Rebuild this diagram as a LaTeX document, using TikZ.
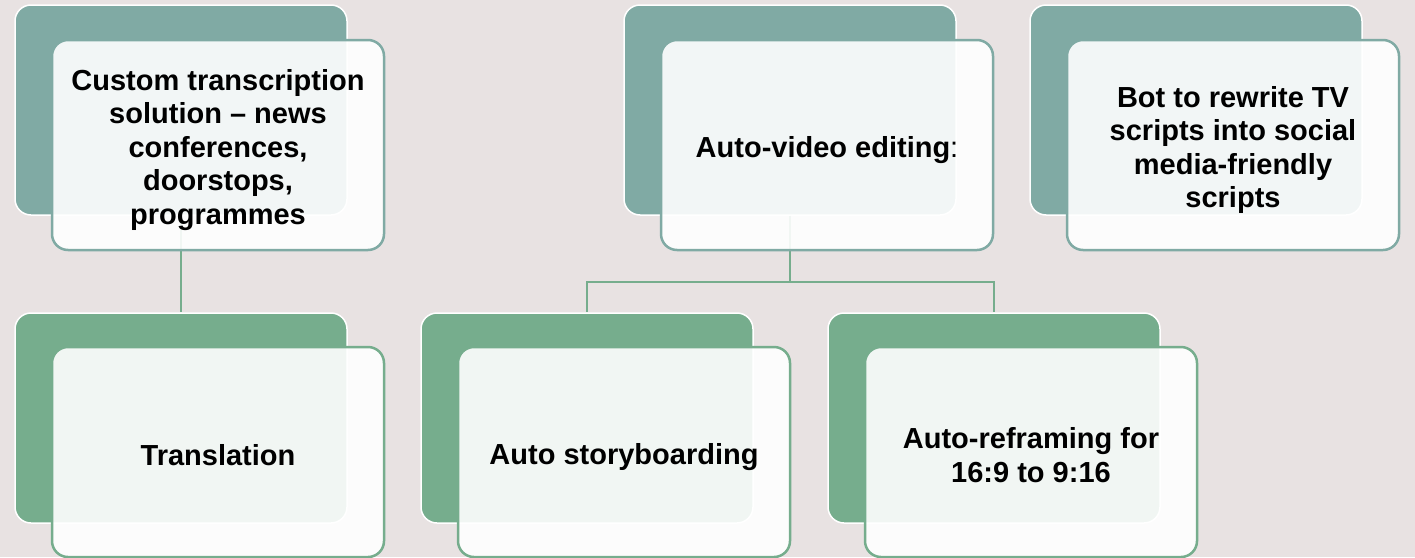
\documentclass[tikz,border=0pt]{standalone}
\usepackage{fontspec}
\setmainfont{Liberation Sans}
\definecolor{pagebg}{HTML}{E8E2E2}
\definecolor{tealback}{HTML}{80AAA4}
\definecolor{greenback}{HTML}{76AD8D}
\begin{document}
\begin{tikzpicture}[x=1pt, y=-1pt,
    back/.style={draw=white, fill=#1, line width=1.5pt, rounded corners=16pt,
        minimum width=332pt, minimum height=210pt, inner sep=0pt},
    front/.style={draw=#1, fill=white, fill opacity=0.9, line width=2.5pt,
        rounded corners=16pt, minimum width=332pt, minimum height=210pt,
        inner sep=0pt},
    cardtext/.style={align=center, inner sep=0pt,
        font=\fontsize{29}{33.5}\selectfont\bfseries},
    link/.style={draw=greenback, line width=2pt}]
    \fill[pagebg] (0,0) rectangle (1415,557);
    \useasboundingbox (0,0) rectangle (1415,557);
    % back cards
    \node[back=tealback] (transcB) at (181,110) {};
    \node[back=tealback] (videoB) at (790,110) {};
    \node[back=tealback] (botB) at (1196,110) {};
    \node[back=greenback] (translB) at (181,418) {};
    \node[back=greenback] (storyB) at (587,418) {};
    \node[back=greenback] (reframeB) at (994,418) {};
    % links between the cards
    \coordinate (fork) at (790,282);
    \draw[link] (transcB.south) -- (translB.north);
    \draw[link] (videoB.south) -- (fork) -| (storyB.north);
    \draw[link] (fork) -| (reframeB.north);
    % front cards
    \node[front=tealback] (transc) at (218,145) {};
    \node[front=tealback] (video) at (827,145) {};
    \node[front=tealback] (bot) at (1233,145) {};
    \node[front=greenback] (transl) at (218,452) {};
    \node[front=greenback] (story) at (624,452) {};
    \node[front=greenback] (reframe) at (1031,452) {};
    % card texts, set a little below the middle
    \node[cardtext] (transcT) at ([yshift=-5pt]transc.center)
        {Custom transcription\\solution -- news\\conferences,\\doorstops,\\programmes};
    \node[cardtext] (videoT) at ([yshift=-5pt]video.center) {Auto-video editing\mdseries:};
    \node[cardtext] (botT) at ([yshift=-5pt]bot.center)
        {Bot to rewrite TV\\scripts into social\\media-friendly\\scripts};
    \node[cardtext] (translT) at ([yshift=-3pt]transl.center) {Translation};
    \node[cardtext] (storyT) at ([yshift=-5pt]story.center) {Auto storyboarding};
    \node[cardtext] (reframeT) at ([yshift=-3pt]reframe.center) {Auto-reframing for\\16:9 to 9:16};
\end{tikzpicture}
\end{document}
